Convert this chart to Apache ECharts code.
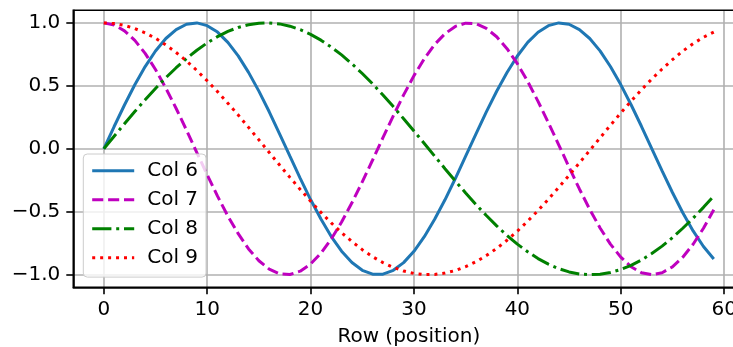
<!DOCTYPE html>
<html>
<head>
<meta charset="utf-8">
<script src="https://cdn.jsdelivr.net/npm/echarts@6/dist/echarts.min.js"></script>
<style>
html,body{margin:0;padding:0;background:#fff;overflow:hidden;}
#chart{width:733px;height:347px;}
</style>
</head>
<body>
<div id="chart"></div>
<script>
var rows = [0,1,2,3,4,5,6,7,8,9,10,11,12,13,14,15,16,17,18,19,20,21,22,23,24,25,26,27,28,29,30,31,32,33,34,35,36,37,38,39,40,41,42,43,44,45,46,47,48,49,50,51,52,53,54,55,56,57,58,59];
var col6 = [0,0.177,0.348,0.509,0.653,0.777,0.876,0.947,0.989,1.000,0.978,0.927,0.845,0.738,0.607,0.458,0.294,0.118,-0.059,-0.235,-0.403,-0.558,-0.697,-0.813,-0.903,-0.965,-0.996,-0.996,-0.965,-0.904,-0.814,-0.698,-0.560,-0.405,-0.236,-0.059,0.118,0.293,0.457,0.606,0.737,0.845,0.926,0.978,1.000,0.989,0.947,0.876,0.778,0.654,0.510,0.350,0.179,0.001,-0.176,-0.347,-0.508,-0.652,-0.776,-0.875];
var col7 = [1,0.984,0.937,0.861,0.758,0.630,0.482,0.320,0.148,-0.030,-0.206,-0.376,-0.534,-0.674,-0.795,-0.889,-0.956,-0.993,-0.998,-0.972,-0.915,-0.830,-0.717,-0.582,-0.429,-0.263,-0.089,0.088,0.262,0.428,0.581,0.716,0.829,0.914,0.972,0.998,0.993,0.956,0.890,0.795,0.676,0.535,0.377,0.207,0.032,-0.146,-0.319,-0.481,-0.629,-0.757,-0.860,-0.937,-0.984,-1.000,-0.984,-0.938,-0.861,-0.758,-0.631,-0.484];
var col8 = [0,0.100,0.199,0.296,0.389,0.479,0.565,0.644,0.717,0.783,0.841,0.891,0.932,0.964,0.985,0.997,1.000,0.992,0.974,0.946,0.909,0.863,0.808,0.746,0.675,0.598,0.516,0.427,0.335,0.239,0.141,0.042,-0.058,-0.158,-0.256,-0.351,-0.443,-0.530,-0.612,-0.688,-0.757,-0.818,-0.872,-0.916,-0.952,-0.978,-0.994,-1.000,-0.996,-0.982,-0.959,-0.926,-0.883,-0.832,-0.773,-0.706,-0.631,-0.551,-0.465,-0.374];
var col9 = [1,0.995,0.980,0.955,0.921,0.878,0.825,0.765,0.697,0.622,0.540,0.454,0.362,0.268,0.170,0.071,-0.029,-0.129,-0.227,-0.323,-0.416,-0.505,-0.589,-0.666,-0.737,-0.801,-0.857,-0.904,-0.942,-0.971,-0.990,-0.999,-0.998,-0.987,-0.967,-0.936,-0.897,-0.848,-0.791,-0.726,-0.654,-0.575,-0.490,-0.401,-0.307,-0.211,-0.112,-0.013,0.087,0.187,0.284,0.378,0.469,0.554,0.634,0.708,0.776,0.835,0.886,0.927];
var seriesNames = ['Col 6','Col 7','Col 8','Col 9'];
var xTicks = [0,10,20,30,40,50,60];
var yTicks = [-1,-0.5,0,0.5,1];
var xName = 'Row (position)';

function pairs(vals){ return rows.map(function(r,i){ return [r, vals[i]]; }); }

var font = 'DejaVu Sans';
var colors = ['#1f77b4','#bf00bf','#008000','#ff0000'];
var dashes = ['solid',[11.1,4.8],[19.2,4.8,3,4.8],[3,4.95]];
var allVals = [col6,col7,col8,col9];

var chart = echarts.init(document.getElementById('chart'), null, {renderer:'canvas'});
chart.setOption({
  animation:false,
  backgroundColor:'#ffffff',
  textStyle:{fontFamily:font},
  grid:{left:73.3, top:10.3, width:671, height:277, outerBoundsMode:'none', containLabel:false,
        show:true, borderColor:'#000', borderWidth:1.6, backgroundColor:'transparent', z:3},
  legend:{
    orient:'vertical', left:83.3, top:154,
    itemWidth:42, itemHeight:14, itemGap:9,
    padding:[6.7,8,9.4,7.4],
    backgroundColor:'rgba(255,255,255,0.8)',
    borderColor:'#cccccc', borderWidth:1, borderRadius:4,
    itemStyle:{color:'transparent', borderColor:'transparent', borderWidth:0, opacity:0},
    lineStyle:{width:3},
    textStyle:{fontFamily:font, fontSize:20, color:'#000', lineHeight:20, padding:[0,0,0,8]},
    data:seriesNames
  },
  xAxis:{
    type:'value', min:-2.95, max:61.95,
    name:xName, nameLocation:'middle', nameGap:39,
    nameTextStyle:{fontFamily:font, fontSize:20, color:'#000'},
    axisLine:{show:true, onZero:false, lineStyle:{color:'#000', width:1.6}},
    axisTick:{show:true, length:7, customValues:xTicks, lineStyle:{color:'#000', width:1.6}},
    axisLabel:{customValues:xTicks, margin:12, fontFamily:font, fontSize:20, color:'#000'},
    splitLine:{show:true, lineStyle:{color:'#b0b0b0', width:1.6}}
  },
  yAxis:{
    type:'value', min:-1.1, max:1.1,
    axisLine:{show:true, onZero:false, lineStyle:{color:'#000', width:1.6}},
    axisTick:{show:true, length:7, customValues:yTicks, lineStyle:{color:'#000', width:1.6}},
    axisLabel:{customValues:yTicks, margin:13, fontFamily:font, fontSize:20, color:'#000',
      formatter:function(v){ return v.toFixed(1).replace('-', '\u2212'); }},
    splitLine:{show:true, lineStyle:{color:'#b0b0b0', width:1.6}}
  },
  series: seriesNames.map(function(n,k){
    return {
      name:n, type:'line', data:pairs(allVals[k]),
      symbol:'none', showSymbol:false,
      lineStyle:{color:colors[k], width:3, type:dashes[k], cap:'butt'},
      itemStyle:{color:colors[k]},
      z: 2
    };
  })
});
</script>
</body>
</html>
